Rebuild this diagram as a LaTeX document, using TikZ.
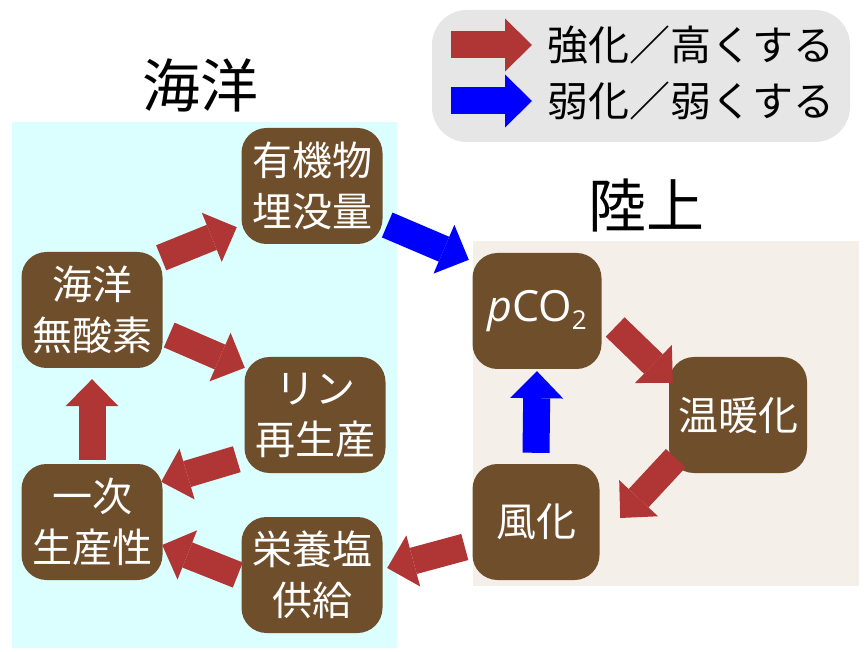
\documentclass[tikz,border=0pt]{standalone}
\usepackage{fontspec}
\setmainfont{Noto Sans CJK JP}
\newfontfamily\latinsf{Open Sans}
\usetikzlibrary{calc,arrows.meta}

\definecolor{nodebrown}{RGB}{111,78,44}
\definecolor{strongred}{RGB}{176,53,53}
\definecolor{weakblue}{RGB}{0,0,255}
\definecolor{seacyan}{RGB}{219,255,255}
\definecolor{landbeige}{RGB}{245,239,233}
\definecolor{keygrey}{RGB}{230,230,230}

\tikzset{
  box/.style={fill=nodebrown, rounded corners=25pt, minimum width=141pt,
    minimum height=116pt, inner sep=0pt, align=center, text=white,
    font=\fontsize{40}{51}\selectfont},
  strongarrow/.style={draw=strongred, line width=27pt,
    -{Triangle[width=53pt,length=27pt,line width=0pt]}},
  weakarrow/.style={strongarrow, draw=weakblue},
  title/.style={font=\fontsize{58}{60}\selectfont},
}

\begin{document}
\begin{tikzpicture}[x=1pt,y=-1pt]
  \useasboundingbox (0,0) rectangle (868,652);
  % 背景
  \fill[seacyan] (12,122) rectangle (397,648);
  \fill[landbeige] (473,241) rectangle (859,586);
  \fill[keygrey,rounded corners=35pt] (432,10) rectangle (850,142);
  % 凡例
  \node[anchor=west,inner sep=0pt,font=\fontsize{41}{45}\selectfont] (strongtxt) at (547,45) {強化／高くする};
  \node[anchor=west,inner sep=0pt,font=\fontsize{41}{45}\selectfont] (weaktxt) at (547,101) {弱化／弱くする};
  \coordinate (strongkey) at (451,45);
  \coordinate (weakkey) at (451,101);
  \draw[strongarrow] (strongkey) -- ($(strongtxt.west)+(-15,0)$);
  \draw[weakarrow] (weakkey) -- ($(weaktxt.west)+(-15,0)$);
  % 見出し
  \node[title] (seatitle) at (200,85) {海洋};
  \node[title] (landtitle) at (646,205) {陸上};
  % 海洋
  \node[box] (burial) at (312,186) {有機物\\埋没量};
  \node[box] (anox) at (92,310) {海洋\\無酸素};
  \node[box] (phos) at (315,415) {リン\\再生産};
  \node[box] (primary) at (92,522) {一次\\生産性};
  \node[box] (nutrient) at (312,575) {栄養塩\\供給};
  % 陸上
  \node[box,minimum width=129pt] (pco) at (537,311) {{\latinsf\fontsize{43}{51}\selectfont\itshape p\upshape CO\raisebox{-8pt}{\fontsize{26}{28}\selectfont 2}}};
  \node[box,minimum width=138pt] (warm) at (738,415) {温暖化};
  \node[box,minimum width=127pt] (weather) at (536,522) {風化};
  % 矢印
  \draw[strongarrow] ($(anox.north east)+(-1.5,6)$) -- ($(burial.south west)+(-4.5,-17)$);
  \draw[strongarrow] ($(anox.east)+(6.5,25)$) -- ($(phos.north west)+(0.5,11)$);
  \draw[strongarrow] ($(primary.north)+(0,-4)$) -- ($(anox.south)+(0,11)$);
  \draw[strongarrow] ($(phos.south west)+(-7.5,-14)$) -- ($(primary.north east)+(-1.5,18)$);
  \draw[strongarrow] ($(nutrient.west)+(-3.5,0)$) -- ($(primary.east)+(-0.5,23)$);
  \draw[strongarrow] ($(weather.west)+(-7.5,25)$) -- ($(nutrient.east)+(4.5,-7)$);
  \draw[weakarrow] ($(burial.east)+(4.5,39)$) -- ($(pco.north west)+(-3.5,7)$);
  \draw[weakarrow] ($(weather.north)+(0,-11)$) -- ($(pco.south)+(0,2)$);
  \draw[strongarrow] ($(pco.east)+(13.5,16)$) -- ($(warm.north west)+(4,26)$);
  \draw[strongarrow] ($(warm.south west)+(7,-15)$) -- ($(weather.east)+(20.5,-4)$);
\end{tikzpicture}
\end{document}
